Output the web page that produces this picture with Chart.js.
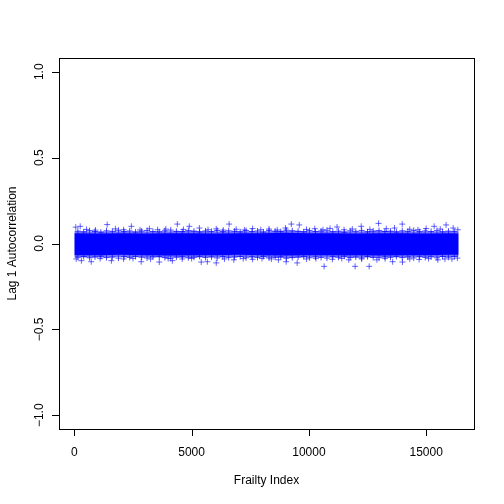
<!DOCTYPE html>
<html>
<head>
<meta charset="utf-8">
<script src="https://cdn.jsdelivr.net/npm/chart.js@4"></script>
<style>
  html, body { margin: 0; padding: 0; background: #fff; }
  #wrap { width: 504px; height: 504px; }
</style>
</head>
<body>
<div id="wrap"><canvas id="acfChart" width="504" height="504"></canvas></div>
<script>
// Number of series in the frailty index (x runs 1..N)
const N_SERIES = 16384;

// Tick marks / labels
const X_TICKS = [0, 5000, 10000, 15000];
const Y_TICKS = [-1, -0.5, 0, 0.5, 1];
const Y_TICK_LABELS = ['\u22121.0', '\u22120.5', '0.0', '0.5', '1.0'];

// Envelope of the dense cloud
const BAND_X = [1, 1000, 2000, 3000, 4000, 5000, 6000, 7000, 8000, 9000, 10000, 11000, 12000, 13000, 14000, 15000, 16000, 16384];
const SOLID_HI = [0.060, 0.058, 0.060, 0.058, 0.060, 0.060, 0.058, 0.060, 0.060, 0.062, 0.060, 0.060, 0.058, 0.060, 0.060, 0.058, 0.060, 0.058];
const SOLID_LO = [-0.068, -0.068, -0.066, -0.068, -0.070, -0.068, -0.068, -0.066, -0.068, -0.070, -0.068, -0.068, -0.068, -0.070, -0.068, -0.068, -0.066, -0.066];
const FUZZ_HI = [0.072, 0.070, 0.072, 0.070, 0.072, 0.074, 0.070, 0.072, 0.070, 0.075, 0.072, 0.072, 0.070, 0.074, 0.072, 0.070, 0.072, 0.069];
const FUZZ_LO = [-0.080, -0.082, -0.078, -0.080, -0.082, -0.082, -0.080, -0.078, -0.080, -0.084, -0.080, -0.080, -0.082, -0.082, -0.080, -0.078, -0.078, -0.077];

// '+' points along the ragged rim of the cloud
const EDGE_X = [150, 400, 650, 880, 1130, 1370, 1620, 1880, 2120, 2360,
  2610, 2870, 3100, 3350, 3620, 3860, 4110, 4350, 4600, 4860,
  5100, 5340, 5590, 5850, 6090, 6330, 6580, 6830, 7070, 7320,
  7570, 7810, 8060, 8300, 8560, 8800, 9040, 9290, 9540, 9780,
  10030, 10280, 10520, 10770, 11020, 11260, 11510, 11760, 12000, 12250,
  12500, 12740, 12990, 13240, 13480, 13730, 13980, 14220, 14470, 14720,
  14960, 15210, 15460, 15700, 15950, 16200];
const EDGE_HI = [0.072, 0.068, 0.075, 0.070, 0.066, 0.074, 0.071, 0.077, 0.069, 0.073,
  0.067, 0.072, 0.076, 0.070, 0.068, 0.074, 0.078, 0.071, 0.069, 0.075,
  0.072, 0.067, 0.073, 0.070, 0.076, 0.069, 0.074, 0.071, 0.068, 0.075,
  0.070, 0.073, 0.067, 0.076, 0.072, 0.069, 0.078, 0.074, 0.071, 0.068,
  0.075, 0.070, 0.073, 0.077, 0.069, 0.072, 0.066, 0.074, 0.071, 0.076,
  0.068, 0.073, 0.075, 0.070, 0.072, 0.067, 0.074, 0.071, 0.076, 0.069,
  0.073, 0.070, 0.075, 0.068, 0.072, 0.070];
const EDGE_LO = [-0.080, -0.076, -0.083, -0.078, -0.074, -0.082, -0.079, -0.085, -0.077, -0.081,
  -0.075, -0.080, -0.084, -0.078, -0.076, -0.082, -0.086, -0.079, -0.077, -0.083,
  -0.080, -0.075, -0.081, -0.078, -0.084, -0.077, -0.082, -0.079, -0.076, -0.083,
  -0.078, -0.081, -0.075, -0.084, -0.080, -0.077, -0.086, -0.082, -0.079, -0.076,
  -0.083, -0.078, -0.081, -0.085, -0.077, -0.080, -0.074, -0.082, -0.079, -0.084,
  -0.076, -0.081, -0.083, -0.078, -0.080, -0.075, -0.082, -0.079, -0.084, -0.077,
  -0.081, -0.078, -0.083, -0.076, -0.080, -0.076];

// Individual '+' points sticking out of the cloud
const UPPER_X = [60, 250, 520, 900, 1400, 1750, 2100, 2430, 2800, 3200, 3550, 3900, 4390, 4650, 4900, 5330, 5700, 6050, 6350, 6600, 6900, 7250, 7600, 7950, 8300, 8650, 9000, 9250, 9590, 9900, 10250, 10600, 10900, 11200, 11500, 11850, 12230, 12600, 12970, 13300, 13650, 13980, 14300, 14650, 15000, 15340, 15600, 15850, 16150, 16350];
const UPPER_Y = [0.095, 0.10, 0.082, 0.078, 0.11, 0.085, 0.08, 0.10, 0.079, 0.086, 0.08, 0.084, 0.113, 0.082, 0.10, 0.09, 0.08, 0.085, 0.078, 0.113, 0.083, 0.079, 0.087, 0.08, 0.084, 0.079, 0.09, 0.113, 0.108, 0.082, 0.086, 0.08, 0.088, 0.096, 0.08, 0.084, 0.10, 0.082, 0.117, 0.086, 0.09, 0.113, 0.083, 0.08, 0.087, 0.10, 0.084, 0.108, 0.09, 0.08];
const LOWER_X = [80, 300, 720, 1100, 1580, 2100, 2500, 2850, 3250, 3620, 4000, 4180, 4600, 5000, 5410, 5670, 6050, 6400, 6800, 7200, 7600, 8000, 8400, 8700, 9030, 9500, 9900, 10300, 10650, 11000, 11400, 11700, 11970, 12250, 12570, 12900, 13250, 13570, 13990, 14300, 14700, 15100, 15500, 15800, 16100, 16330];
const LOWER_Y = [-0.09, -0.10, -0.106, -0.088, -0.10, -0.09, -0.087, -0.106, -0.09, -0.108, -0.088, -0.10, -0.09, -0.087, -0.108, -0.106, -0.113, -0.09, -0.095, -0.088, -0.092, -0.087, -0.09, -0.095, -0.106, -0.113, -0.09, -0.088, -0.133, -0.092, -0.087, -0.095, -0.133, -0.09, -0.133, -0.095, -0.088, -0.106, -0.108, -0.09, -0.093, -0.088, -0.095, -0.09, -0.09, -0.085];

const FONT = "'Liberation Sans', Arial, Helvetica, sans-serif";

const zip = (xs, ys) => xs.map((x, i) => ({ x: x, y: ys[i] }));

// R-style axes, box and labels
const rAxes = {
  id: 'rAxes',
  afterDraw(chart) {
    const { ctx, chartArea: a, scales } = chart;
    const xs = scales.x, ys = scales.y;
    ctx.save();
    ctx.strokeStyle = '#000';
    ctx.lineWidth = 1;
    ctx.strokeRect(a.left + 0.5, a.top + 0.5, a.right - a.left, a.bottom - a.top);

    ctx.fillStyle = '#000';
    ctx.font = '12px ' + FONT;

    // x axis
    ctx.beginPath();
    X_TICKS.forEach(v => {
      const px = Math.round(xs.getPixelForValue(v)) + 0.5;
      ctx.moveTo(px, a.bottom);
      ctx.lineTo(px, a.bottom + 7);
    });
    ctx.stroke();
    ctx.textAlign = 'center';
    ctx.textBaseline = 'middle';
    X_TICKS.forEach(v => {
      ctx.fillText(String(v), xs.getPixelForValue(v), a.bottom + 24);
    });
    ctx.fillText('Frailty Index', (a.left + a.right) / 2, a.bottom + 52);

    // y axis
    ctx.beginPath();
    Y_TICKS.forEach(v => {
      const py = Math.round(ys.getPixelForValue(v)) + 0.5;
      ctx.moveTo(a.left, py);
      ctx.lineTo(a.left - 7, py);
    });
    ctx.stroke();
    Y_TICKS.forEach((v, i) => {
      ctx.save();
      ctx.translate(a.left - 19, ys.getPixelForValue(v));
      ctx.rotate(-Math.PI / 2);
      ctx.fillText(Y_TICK_LABELS[i], 0, 0);
      ctx.restore();
    });
    ctx.save();
    ctx.translate(13, (a.top + a.bottom) / 2);
    ctx.rotate(-Math.PI / 2);
    ctx.fillText('Lag 1 Autocorrelation', 0, 0);
    ctx.restore();

    ctx.restore();
  }
};

const bandLine = (data, fillTarget, color) => ({
  type: 'line',
  data: data,
  borderWidth: 0,
  pointRadius: 0,
  fill: fillTarget === null ? false : { target: fillTarget },
  backgroundColor: color,
  borderColor: 'rgba(0,0,0,0)',
  order: 3
});

const crosses = (data, color) => ({
  data: data,
  pointStyle: 'cross',
  pointRadius: 3,
  borderWidth: 1,
  borderColor: color,
  backgroundColor: color,
  order: 1
});

new Chart(document.getElementById('acfChart'), {
  type: 'scatter',
  data: {
    datasets: [
      bandLine(zip(BAND_X, FUZZ_HI), 1, 'rgba(0, 0, 255, 0.55)'),
      bandLine(zip(BAND_X, FUZZ_LO), null, 'rgba(0,0,0,0)'),
      bandLine(zip(BAND_X, SOLID_HI), 3, '#0000ff'),
      bandLine(zip(BAND_X, SOLID_LO), null, 'rgba(0,0,0,0)'),
      crosses(zip(EDGE_X, EDGE_HI), 'rgba(0, 0, 255, 0.7)'),
      crosses(zip(EDGE_X, EDGE_LO), 'rgba(0, 0, 255, 0.7)'),
      crosses(zip(UPPER_X, UPPER_Y), 'rgba(0, 0, 255, 0.6)'),
      crosses(zip(LOWER_X, LOWER_Y), 'rgba(0, 0, 255, 0.6)')
    ]
  },
  options: {
    responsive: false,
    animation: false,
    layout: { padding: { left: 59, top: 58, right: 30, bottom: 75 } },
    plugins: {
      legend: { display: false },
      tooltip: { enabled: false }
    },
    scales: {
      x: {
        type: 'linear',
        display: false,
        min: 1 - 0.04 * (N_SERIES - 1),
        max: N_SERIES + 0.04 * (N_SERIES - 1)
      },
      y: {
        type: 'linear',
        display: false,
        min: -1.08,
        max: 1.08
      }
    }
  },
  plugins: [rAxes]
});
</script>
</body>
</html>
